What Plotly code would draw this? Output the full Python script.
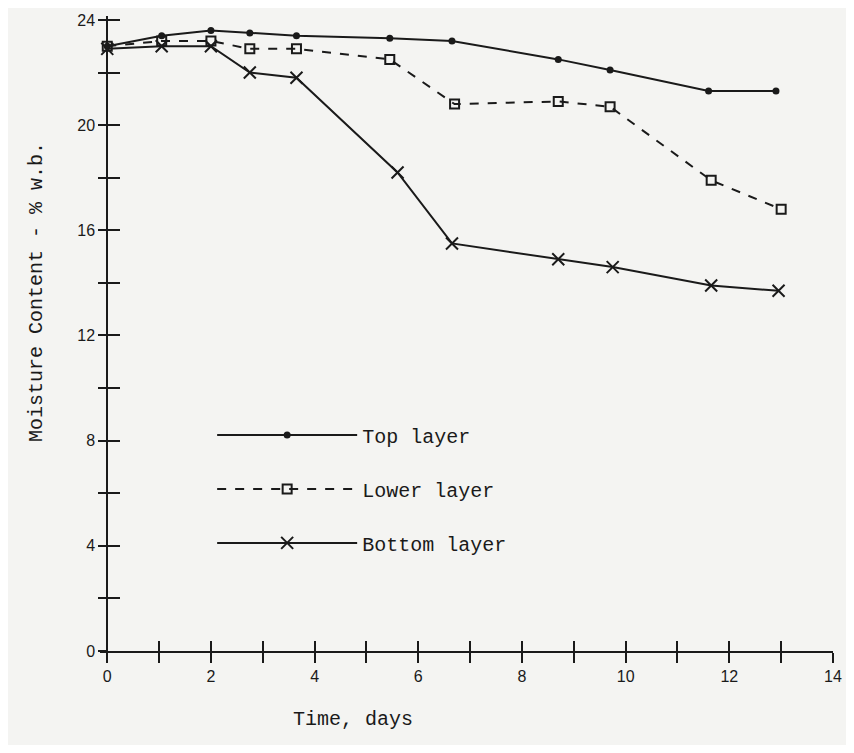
import plotly.graph_objects as go

# ---- data ----
top_days = [0, 1.05, 2.0, 2.75, 3.65, 5.45, 6.65, 8.7, 9.7, 11.6, 12.9]
top_mc = [23.0, 23.4, 23.6, 23.5, 23.4, 23.3, 23.2, 22.5, 22.1, 21.3, 21.3]

lower_days = [0, 1.05, 2.0, 2.75, 3.65, 5.45, 6.7, 8.7, 9.7, 11.65, 13.0]
lower_mc = [23.0, 23.2, 23.2, 22.9, 22.9, 22.5, 20.8, 20.9, 20.7, 17.9, 16.8]

bottom_days = [0, 1.05, 2.0, 2.75, 3.65, 5.6, 6.65, 8.7, 9.75, 11.65, 12.95]
bottom_mc = [22.9, 23.0, 23.0, 22.0, 21.8, 18.2, 15.5, 14.9, 14.6, 13.9, 13.7]

x_tickvals = list(range(0, 15))
x_ticktext = [str(v) if v % 2 == 0 else "" for v in x_tickvals]
y_tickvals = list(range(0, 25, 2))
y_ticktext = [str(v) if v % 4 == 0 else "" for v in y_tickvals]

INK = "#1a1a1a"
BG = "#f4f4f2"
MONO = "Liberation Mono, Courier New, monospace"
SANS = "Liberation Sans, Arial, sans-serif"

fig = go.Figure()
fig.add_trace(go.Scatter(
    x=top_days, y=top_mc, name="Top layer", legendgroup="a",
    mode="lines+markers",
    line=dict(color=INK, width=2),
    marker=dict(symbol="circle", size=7, color=INK),
))
fig.add_trace(go.Scatter(
    x=lower_days, y=lower_mc, name="Lower layer", legendgroup="b",
    mode="lines+markers",
    line=dict(color=INK, width=2, dash="dash"),
    marker=dict(symbol="square-open", size=9, color=INK, line=dict(width=2, color=INK)),
))
fig.add_trace(go.Scatter(
    x=bottom_days, y=bottom_mc, name="Bottom layer", legendgroup="c",
    mode="lines+markers",
    line=dict(color=INK, width=2),
    marker=dict(symbol="x-thin-open", size=12, color=INK, line=dict(width=2, color=INK)),
))

xr = [-0.14, 14.0]
yr = [0, 24.15]
ypos = (0 - xr[0]) / (xr[1] - xr[0])

fig.update_layout(
    width=838, height=737,
    margin=dict(l=92, r=10, t=4, b=94),
    paper_bgcolor=BG, plot_bgcolor=BG,
    font=dict(family=MONO, color=INK, size=15),
    showlegend=True,
    legend=dict(
        x=0.153, y=0.371, xanchor="left", yanchor="top",
        bgcolor="rgba(0,0,0,0)", font=dict(family=MONO, size=20, color=INK),
        tracegroupgap=25, itemwidth=140,
    ),
    xaxis=dict(
        range=xr, showgrid=False, zeroline=False,
        showline=True, linecolor=INK, linewidth=2,
        tickmode="array", tickvals=x_tickvals, ticktext=x_ticktext,
        ticks="outside", ticklen=10, tickwidth=2, tickcolor=INK,
        tickfont=dict(family=SANS, size=16, color=INK),
        ticklabeloverflow="allow",
        anchor="y",
    ),
    xaxis2=dict(
        range=xr, overlaying="x", anchor="y", showgrid=False, zeroline=False,
        tickmode="array", tickvals=x_tickvals, showticklabels=False,
        ticks="inside", ticklen=10, tickwidth=2, tickcolor=INK, showline=False,
    ),
    yaxis=dict(
        range=yr, showgrid=False, zeroline=False,
        showline=True, linecolor=INK, linewidth=2,
        anchor="free", position=ypos,
        tickmode="array", tickvals=y_tickvals, ticktext=y_ticktext,
        ticks="outside", ticklen=8, tickwidth=2, tickcolor=INK,
        tickfont=dict(family=SANS, size=16, color=INK),
        ticklabeloverflow="allow",
    ),
    yaxis2=dict(
        range=yr, overlaying="y", anchor="free", position=ypos,
        showgrid=False, zeroline=False, showline=False,
        tickmode="array", tickvals=y_tickvals, showticklabels=False,
        ticks="inside", ticklen=12, tickwidth=2, tickcolor=INK,
    ),
    annotations=[
        dict(text="Moisture Content - % w.b.", xref="paper", yref="paper",
             x=-0.106, y=0.565, textangle=-90, showarrow=False,
             font=dict(family=MONO, size=20, color=INK)),
        dict(text="Time, days", xref="paper", yref="paper",
             x=0.345, y=-0.108, showarrow=False, yanchor="middle",
             font=dict(family=MONO, size=20, color=INK)),
    ],
)

# invisible trace to activate the overlay axes
fig.add_trace(go.Scatter(x=[None], y=[None], xaxis="x2", yaxis="y2",
                         showlegend=False, hoverinfo="skip"))

fig.write_html("out.html")
